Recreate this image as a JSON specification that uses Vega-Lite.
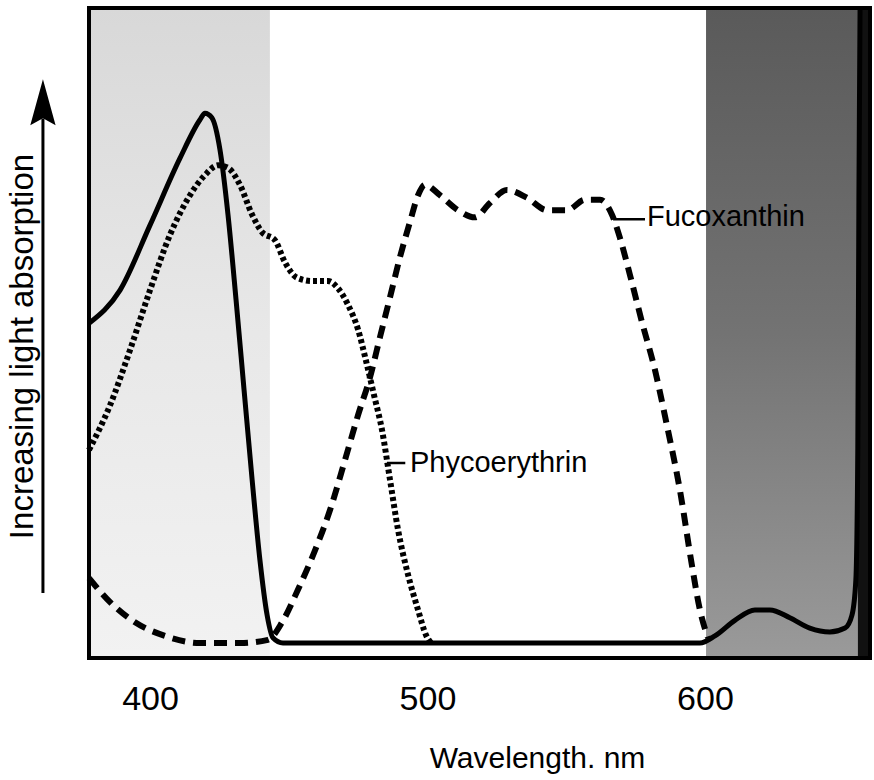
{
  "$schema": "https://vega.github.io/schema/vega-lite/v6.json",
  "width": 781,
  "height": 650,
  "autosize": {"type": "none"},
  "padding": {"left": 89, "top": 8, "right": 4, "bottom": 122},
  "background": "white",
  "config": {"view": {"stroke": null}, "font": "Liberation Sans"},
  "datasets": {
    "bands": [
      {"band": "blue", "nm": 378, "nm2": 443.2},
      {"band": "red", "nm": 600.4, "nm2": 655.1},
      {"band": "far", "nm": 655.1, "nm2": 659.5}
    ],
    "curves": [
      {"pigment": "Chlorophyll", "nm": 378, "a": 51.5},
      {"pigment": "Chlorophyll", "nm": 389.2, "a": 56.6},
      {"pigment": "Chlorophyll", "nm": 400.0, "a": 66.6},
      {"pigment": "Chlorophyll", "nm": 410.8, "a": 76.9},
      {"pigment": "Chlorophyll", "nm": 418.0, "a": 82.8},
      {"pigment": "Chlorophyll", "nm": 419.8, "a": 83.8},
      {"pigment": "Chlorophyll", "nm": 422.3, "a": 83.1},
      {"pigment": "Chlorophyll", "nm": 425.2, "a": 78.2},
      {"pigment": "Chlorophyll", "nm": 428.1, "a": 68.2},
      {"pigment": "Chlorophyll", "nm": 431.0, "a": 55.1},
      {"pigment": "Chlorophyll", "nm": 433.9, "a": 41.2},
      {"pigment": "Chlorophyll", "nm": 436.8, "a": 27.4},
      {"pigment": "Chlorophyll", "nm": 439.6, "a": 15.1},
      {"pigment": "Chlorophyll", "nm": 442.2, "a": 6.6},
      {"pigment": "Chlorophyll", "nm": 444.3, "a": 3.1},
      {"pigment": "Chlorophyll", "nm": 447.9, "a": 2.3},
      {"pigment": "Chlorophyll", "nm": 598.2, "a": 2.3},
      {"pigment": "Chlorophyll", "nm": 603.6, "a": 3.4},
      {"pigment": "Chlorophyll", "nm": 610.8, "a": 5.8},
      {"pigment": "Chlorophyll", "nm": 618.0, "a": 7.4},
      {"pigment": "Chlorophyll", "nm": 623.4, "a": 7.4},
      {"pigment": "Chlorophyll", "nm": 630.6, "a": 6.2},
      {"pigment": "Chlorophyll", "nm": 637.8, "a": 4.6},
      {"pigment": "Chlorophyll", "nm": 645.0, "a": 4.0},
      {"pigment": "Chlorophyll", "nm": 650.5, "a": 4.6},
      {"pigment": "Chlorophyll", "nm": 653.0, "a": 6.6},
      {"pigment": "Chlorophyll", "nm": 654.4, "a": 12.0},
      {"pigment": "Chlorophyll", "nm": 655.1, "a": 32.0},
      {"pigment": "Chlorophyll", "nm": 655.5, "a": 70.5},
      {"pigment": "Chlorophyll", "nm": 655.9, "a": 100},
      {"pigment": "Phycoerythrin", "nm": 378, "a": 32.0},
      {"pigment": "Phycoerythrin", "nm": 385.6, "a": 38.9},
      {"pigment": "Phycoerythrin", "nm": 392.8, "a": 47.4},
      {"pigment": "Phycoerythrin", "nm": 400.0, "a": 56.6},
      {"pigment": "Phycoerythrin", "nm": 407.2, "a": 65.1},
      {"pigment": "Phycoerythrin", "nm": 414.4, "a": 71.2},
      {"pigment": "Phycoerythrin", "nm": 419.8, "a": 74.3},
      {"pigment": "Phycoerythrin", "nm": 424.5, "a": 75.8},
      {"pigment": "Phycoerythrin", "nm": 428.1, "a": 75.4},
      {"pigment": "Phycoerythrin", "nm": 432.4, "a": 72.8},
      {"pigment": "Phycoerythrin", "nm": 436.8, "a": 68.2},
      {"pigment": "Phycoerythrin", "nm": 440.4, "a": 65.5},
      {"pigment": "Phycoerythrin", "nm": 445.0, "a": 64.3},
      {"pigment": "Phycoerythrin", "nm": 448.6, "a": 60.9},
      {"pigment": "Phycoerythrin", "nm": 453.0, "a": 58.5},
      {"pigment": "Phycoerythrin", "nm": 458.4, "a": 58.0},
      {"pigment": "Phycoerythrin", "nm": 464.1, "a": 58.0},
      {"pigment": "Phycoerythrin", "nm": 467.7, "a": 56.9},
      {"pigment": "Phycoerythrin", "nm": 471.4, "a": 54.3},
      {"pigment": "Phycoerythrin", "nm": 475.0, "a": 50.5},
      {"pigment": "Phycoerythrin", "nm": 477.8, "a": 45.8},
      {"pigment": "Phycoerythrin", "nm": 480.7, "a": 40.5},
      {"pigment": "Phycoerythrin", "nm": 483.6, "a": 35.1},
      {"pigment": "Phycoerythrin", "nm": 486.5, "a": 27.4},
      {"pigment": "Phycoerythrin", "nm": 489.4, "a": 19.7},
      {"pigment": "Phycoerythrin", "nm": 493.0, "a": 12.8},
      {"pigment": "Phycoerythrin", "nm": 496.6, "a": 7.4},
      {"pigment": "Phycoerythrin", "nm": 499.5, "a": 3.5},
      {"pigment": "Phycoerythrin", "nm": 501.3, "a": 2.3},
      {"pigment": "Fucoxanthin", "nm": 378, "a": 12.3},
      {"pigment": "Fucoxanthin", "nm": 385.6, "a": 8.6},
      {"pigment": "Fucoxanthin", "nm": 394.6, "a": 5.5},
      {"pigment": "Fucoxanthin", "nm": 405.4, "a": 3.4},
      {"pigment": "Fucoxanthin", "nm": 418.0, "a": 2.3},
      {"pigment": "Fucoxanthin", "nm": 432.4, "a": 2.3},
      {"pigment": "Fucoxanthin", "nm": 442.5, "a": 2.8},
      {"pigment": "Fucoxanthin", "nm": 447.6, "a": 5.5},
      {"pigment": "Fucoxanthin", "nm": 453.3, "a": 10.5},
      {"pigment": "Fucoxanthin", "nm": 459.5, "a": 16.6},
      {"pigment": "Fucoxanthin", "nm": 464.9, "a": 22.8},
      {"pigment": "Fucoxanthin", "nm": 470.3, "a": 30.5},
      {"pigment": "Fucoxanthin", "nm": 475.0, "a": 37.4},
      {"pigment": "Fucoxanthin", "nm": 479.3, "a": 43.2},
      {"pigment": "Fucoxanthin", "nm": 482.9, "a": 49.4},
      {"pigment": "Fucoxanthin", "nm": 486.5, "a": 55.5},
      {"pigment": "Fucoxanthin", "nm": 490.1, "a": 61.7},
      {"pigment": "Fucoxanthin", "nm": 493.7, "a": 67.1},
      {"pigment": "Fucoxanthin", "nm": 496.6, "a": 71.2},
      {"pigment": "Fucoxanthin", "nm": 499.1, "a": 72.8},
      {"pigment": "Fucoxanthin", "nm": 504.5, "a": 71.2},
      {"pigment": "Fucoxanthin", "nm": 511.0, "a": 68.9},
      {"pigment": "Fucoxanthin", "nm": 517.1, "a": 67.8},
      {"pigment": "Fucoxanthin", "nm": 522.5, "a": 70.0},
      {"pigment": "Fucoxanthin", "nm": 528.6, "a": 72.0},
      {"pigment": "Fucoxanthin", "nm": 535.9, "a": 70.8},
      {"pigment": "Fucoxanthin", "nm": 543.1, "a": 68.9},
      {"pigment": "Fucoxanthin", "nm": 550.3, "a": 68.9},
      {"pigment": "Fucoxanthin", "nm": 556.8, "a": 70.5},
      {"pigment": "Fucoxanthin", "nm": 562.2, "a": 70.5},
      {"pigment": "Fucoxanthin", "nm": 566.5, "a": 68.2},
      {"pigment": "Fucoxanthin", "nm": 569.4, "a": 64.6},
      {"pigment": "Fucoxanthin", "nm": 573.0, "a": 58.9},
      {"pigment": "Fucoxanthin", "nm": 577.3, "a": 51.7},
      {"pigment": "Fucoxanthin", "nm": 582.0, "a": 44.3},
      {"pigment": "Fucoxanthin", "nm": 586.3, "a": 35.8},
      {"pigment": "Fucoxanthin", "nm": 591.0, "a": 25.8},
      {"pigment": "Fucoxanthin", "nm": 595.3, "a": 14.3},
      {"pigment": "Fucoxanthin", "nm": 598.2, "a": 7.4},
      {"pigment": "Fucoxanthin", "nm": 601.1, "a": 3.1}
    ],
    "leaders": [
      {"label": "Phycoerythrin", "nm": 485.4, "nm2": 492.0, "a": 30.0},
      {"label": "Fucoxanthin", "nm": 566.9, "nm2": 578.4, "a": 67.5}
    ],
    "labels": [
      {"label": "Phycoerythrin", "nm": 493.7, "a": 30.0},
      {"label": "Fucoxanthin", "nm": 579.1, "a": 67.8}
    ]
  },
  "layer": [
    {
      "data": {"name": "bands"},
      "transform": [{"filter": "datum.band === 'blue'"}],
      "mark": {"type": "rect", "fill": {"gradient": "linear", "x1": 0, "y1": 0, "x2": 0, "y2": 1,
        "stops": [{"offset": 0, "color": "#d8d8d8"}, {"offset": 0.5, "color": "#e8e8e8"}, {"offset": 1, "color": "#f2f2f2"}]}},
      "encoding": {
        "x": {
          "field": "nm", "type": "quantitative",
          "scale": {"domain": [378, 659.5], "nice": false, "zero": false},
          "axis": {
            "values": [400, 500, 600], "ticks": false, "tickSize": 0, "domain": false, "grid": false,
            "labelFontSize": 34, "labelColor": "black", "labelFont": "Liberation Sans",
            "labelPadding": 51, "labelBaseline": "alphabetic", "labelFlush": false, "labelOverlap": false,
            "title": "Wavelength. nm", "titleFontSize": 30, "titleFontWeight": "normal", "titleColor": "black",
            "titleFont": "Liberation Sans", "titleX": 448, "titleY": 109, "titleBaseline": "alphabetic", "titleAlign": "center"
          }
        },
        "x2": {"field": "nm2"},
        "y": {
          "datum": 0, "type": "quantitative",
          "scale": {"domain": [0, 100], "nice": false, "zero": false},
          "axis": {
            "labels": false, "ticks": false, "domain": false, "grid": false,
            "title": "Increasing light absorption", "titleFontSize": 33, "titleFontWeight": "normal",
            "titleColor": "black", "titleFont": "Liberation Sans", "titleX": -57, "titleY": 338,
            "titleAngle": -90, "titleBaseline": "alphabetic", "titleAlign": "center"
          }
        },
        "y2": {"datum": 100}
      }
    },
    {
      "data": {"name": "bands"},
      "transform": [{"filter": "datum.band === 'red'"}],
      "mark": {"type": "rect", "fill": {"gradient": "linear", "x1": 0, "y1": 0, "x2": 0, "y2": 1,
        "stops": [{"offset": 0, "color": "#5a5a5a"}, {"offset": 0.5, "color": "#737373"}, {"offset": 1, "color": "#9a9a9a"}]}},
      "encoding": {
        "x": {"field": "nm", "type": "quantitative"},
        "x2": {"field": "nm2"},
        "y": {"datum": 0, "type": "quantitative"},
        "y2": {"datum": 100}
      }
    },
    {
      "data": {"name": "bands"},
      "transform": [{"filter": "datum.band === 'far'"}],
      "mark": {"type": "rect", "fill": "#111111"},
      "encoding": {
        "x": {"field": "nm", "type": "quantitative"},
        "x2": {"field": "nm2"},
        "y": {"datum": 0, "type": "quantitative"},
        "y2": {"datum": 100}
      }
    },
    {
      "data": {"name": "curves"},
      "transform": [{"filter": "datum.pigment === 'Chlorophyll'"}],
      "mark": {"type": "line", "color": "black", "strokeWidth": 5, "interpolate": "monotone"},
      "encoding": {
        "x": {"field": "nm", "type": "quantitative"},
        "y": {"field": "a", "type": "quantitative"},
        "order": {"field": "nm"}
      }
    },
    {
      "data": {"name": "curves"},
      "transform": [{"filter": "datum.pigment === 'Phycoerythrin'"}],
      "mark": {"type": "line", "color": "black", "strokeWidth": 6, "strokeDash": [4, 3], "interpolate": "monotone"},
      "encoding": {
        "x": {"field": "nm", "type": "quantitative"},
        "y": {"field": "a", "type": "quantitative"},
        "order": {"field": "nm"}
      }
    },
    {
      "data": {"name": "curves"},
      "transform": [{"filter": "datum.pigment === 'Fucoxanthin'"}],
      "mark": {"type": "line", "color": "black", "strokeWidth": 6, "strokeDash": [13, 8], "interpolate": "monotone"},
      "encoding": {
        "x": {"field": "nm", "type": "quantitative"},
        "y": {"field": "a", "type": "quantitative"},
        "order": {"field": "nm"}
      }
    },
    {
      "data": {"name": "leaders"},
      "mark": {"type": "rule", "color": "black", "strokeWidth": 2.5},
      "encoding": {
        "x": {"field": "nm", "type": "quantitative"},
        "x2": {"field": "nm2"},
        "y": {"field": "a", "type": "quantitative"}
      }
    },
    {
      "data": {"name": "labels"},
      "mark": {"type": "text", "align": "left", "baseline": "middle", "fontSize": 29, "font": "Liberation Sans", "color": "black"},
      "encoding": {
        "x": {"field": "nm", "type": "quantitative"},
        "y": {"field": "a", "type": "quantitative"},
        "text": {"field": "label"}
      }
    },
    {
      "data": {"values": [{}]},
      "mark": {"type": "rect", "filled": false, "stroke": "black", "strokeWidth": 4},
      "encoding": {
        "x": {"datum": 378, "type": "quantitative"},
        "x2": {"datum": 659.5},
        "y": {"datum": 0, "type": "quantitative"},
        "y2": {"datum": 100}
      }
    },
    {
      "data": {"values": [{}]},
      "mark": {"type": "rule", "color": "black", "strokeWidth": 3},
      "encoding": {
        "x": {"datum": 361.4, "type": "quantitative"},
        "y": {"datum": 10, "type": "quantitative"},
        "y2": {"datum": 83}
      }
    },
    {
      "data": {"values": [{}]},
      "mark": {"type": "point", "shape": "M0,-1L0.55,1L0,0.7L-0.55,1Z", "filled": true, "color": "black", "opacity": 1, "size": 2116},
      "encoding": {
        "x": {"datum": 361.4, "type": "quantitative"},
        "y": {"datum": 85.5, "type": "quantitative"}
      }
    }
  ]
}
